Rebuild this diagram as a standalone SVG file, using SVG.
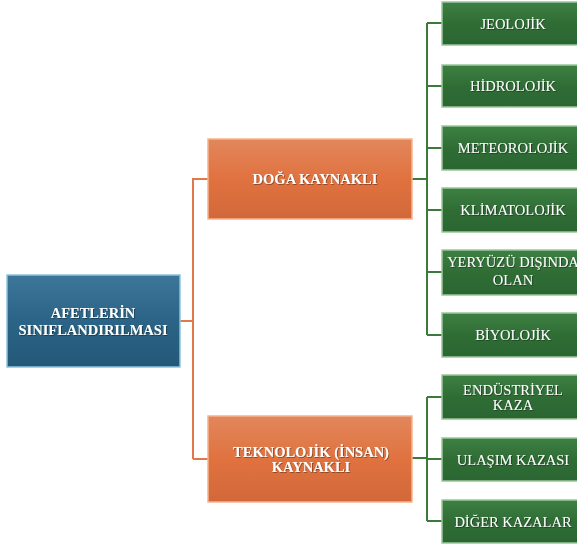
<svg xmlns="http://www.w3.org/2000/svg" width="577" height="547" viewBox="0 0 577 547">
<style>
.t{font-family:'Liberation Serif','Times New Roman',Times,serif;font-size:14.5px;fill:#ffffff;text-anchor:middle;filter:url(#sh)}
.b{font-weight:bold}
.oc{stroke:#e0784c;stroke-width:2;fill:none}
.gc{stroke:#3b7a3b;stroke-width:2;fill:none}
.root{fill:url(#gb);stroke:#8fc3dc;stroke-width:1.5}
.org{fill:url(#go);stroke:#f6b48e;stroke-width:1.5}
.grn{fill:url(#gg);stroke:#9cc79a;stroke-width:1.5}
</style>
<defs>
<filter id="sh" x="-10%" y="-30%" width="120%" height="160%"><feDropShadow dx="0.8" dy="0.8" stdDeviation="0.6" flood-color="#000000" flood-opacity="0.45"/></filter>
<linearGradient id="gb" x1="0" y1="0" x2="0" y2="1"><stop offset="0" stop-color="#3c7698"/><stop offset="0.5" stop-color="#2b6486"/><stop offset="1" stop-color="#245879"/></linearGradient>
<linearGradient id="go" x1="0" y1="0" x2="0" y2="1"><stop offset="0" stop-color="#e2875c"/><stop offset="0.5" stop-color="#e0723f"/><stop offset="1" stop-color="#d2683a"/></linearGradient>
<linearGradient id="gg" x1="0" y1="0" x2="0" y2="1"><stop offset="0" stop-color="#3e8043"/><stop offset="0.5" stop-color="#2f6d35"/><stop offset="1" stop-color="#2b6632"/></linearGradient>
</defs>
<rect width="577" height="547" fill="#ffffff"/>
<g id="connectors">
<path class="oc" d="M180 321H193M193 178V459M193 179H208M193 459H208"/>
<path class="gc" d="M412 179H427M427 23V335M427 23H442M427 86H442M427 148H442M427 210H442M427 272H442M427 335H442"/>
<path class="gc" d="M412 458H427M427 397V521M427 397H442M427 459H442M427 521H442"/>
</g>
<g id="root"><rect class="root" x="7" y="275" width="173" height="92"/><text class="t b" x="93" y="318">AFETLERİN</text><text class="t b" x="93" y="335">SINIFLANDIRILMASI</text></g>
<g id="doga"><rect class="org" x="208" y="139" width="204" height="80"/><text class="t b" x="315" y="184">DOĞA KAYNAKLI</text></g>
<g id="tekno"><rect class="org" x="208" y="416" width="204" height="86"/><text class="t b" x="311" y="457">TEKNOLOJİK (İNSAN)</text><text class="t b" x="311" y="472">KAYNAKLI</text></g>
<g id="jeo"><rect class="grn" x="442" y="2" width="143" height="43"/><text class="t" x="513" y="28.5">JEOLOJİK</text></g>
<g id="hidro"><rect class="grn" x="442" y="65" width="143" height="42"/><text class="t" x="513" y="91">HİDROLOJİK</text></g>
<g id="meteo"><rect class="grn" x="442" y="126" width="143" height="44"/><text class="t" x="513" y="153">METEOROLOJİK</text></g>
<g id="klima"><rect class="grn" x="442" y="188" width="143" height="44"/><text class="t" x="513" y="215">KLİMATOLOJİK</text></g>
<g id="yeryuzu"><rect class="grn" x="442" y="250" width="143" height="45"/><text class="t" x="513" y="267">YERYÜZÜ DIŞINDA</text><text class="t" x="513" y="285">OLAN</text></g>
<g id="biyo"><rect class="grn" x="442" y="313" width="143" height="44"/><text class="t" x="513" y="340">BİYOLOJİK</text></g>
<g id="endustri"><rect class="grn" x="442" y="375" width="143" height="44"/><text class="t" x="513" y="395">ENDÜSTRİYEL</text><text class="t" x="513" y="410">KAZA</text></g>
<g id="ulasim"><rect class="grn" x="442" y="438" width="143" height="43"/><text class="t" x="513" y="464.5">ULAŞIM KAZASI</text></g>
<g id="diger"><rect class="grn" x="442" y="500" width="143" height="43"/><text class="t" x="513" y="526.5">DİĞER KAZALAR</text></g>
</svg>
